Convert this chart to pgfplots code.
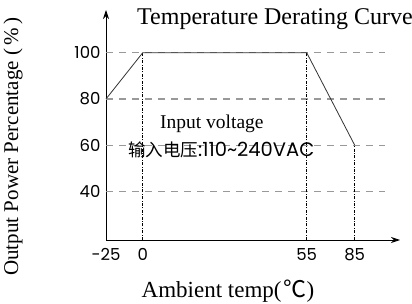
\documentclass[border=0pt]{standalone}
\usepackage{pgfplots}
\pgfplotsset{compat=1.18}
\usetikzlibrary{arrows.meta}
\usepackage{fontspec}
\setmainfont{Liberation Serif}
\newfontfamily\sans{Poppins}
\newfontfamily\cjk{Noto Sans CJK SC}
\begin{document}
\begin{tikzpicture}
\useasboundingbox (0,0) rectangle (412bp,304bp);
\begin{axis}[
  at={(106bp,64bp)}, anchor=south west,
  scale only axis, width=294bp, height=230bp,
  axis lines=left,
  axis line style={line width=0.9pt, -{Stealth[length=9pt,width=6pt]}},
  x coord trafo/.code={\pgfmathparse{(#1<=0) ? ((#1+25)*1.468) : ((#1<=55) ? (36.7+#1*2.982) : (200.7+(#1-55)*1.6))}},
  xmin=-25, xmax=113.3, ymin=19, ymax=118.5,
  xtick={-25,0,55,85}, xticklabels={-25,0,55,85},
  ytick={40,60,80,100}, yticklabels={40,60,80,100},
  major tick length=0pt,
  xticklabel style={font=\sans\fontsize{16.5bp}{16.5bp}\selectfont, yshift=-5bp},
  yticklabel style={font=\sans\fontsize{16.5bp}{16.5bp}\selectfont, xshift=-2bp},
  clip=false,
]
\foreach \yv in {40,60,80,100}{
  \edef\tmp{\noexpand\draw[gray!80, line width=1.1pt, dash pattern=on 7bp off 6bp] (axis cs:-25,\yv) -- (axis cs:104,\yv);}
  \tmp
}
\draw[black, line width=0.5pt, dash pattern=on 3bp off 1.5bp on 0.8bp off 1.5bp] (axis cs:0,19) -- (axis cs:0,100);
\draw[black, line width=0.5pt, dash pattern=on 3bp off 1.5bp on 0.8bp off 1.5bp] (axis cs:55,19) -- (axis cs:55,100);
\draw[black, line width=0.5pt, dash pattern=on 3bp off 1.5bp on 0.8bp off 1.5bp] (axis cs:85,19) -- (axis cs:85,60);
\addplot[black!80, line width=0.8pt] coordinates {(-25,80) (0,100) (55,100) (85,60)};
\end{axis}
\node[anchor=base west, inner sep=0pt, font=\fontsize{24bp}{24bp}\selectfont] at (137bp,279bp) {Temperature Derating Curve};
\node[anchor=base west, inner sep=0pt, font=\fontsize{19.5bp}{19.5bp}\selectfont] at (160bp,175bp) {Input voltage};
\node[anchor=base west, inner sep=0pt] at (128bp,147bp) {{\cjk\fontsize{17.5bp}{17.5bp}\selectfont 输入电压}{\sans\fontsize{19.5bp}{19.5bp}\selectfont:110\textasciitilde 240VAC}};
\node[rotate=90, inner sep=0pt, font=\fontsize{21bp}{21bp}\selectfont] at (13bp,157.5bp) {Output Power Percentage (\,\%\,)};
\node[anchor=base, inner sep=0pt, font=\fontsize{23bp}{23bp}\selectfont] at (228bp,7bp) {Ambient temp(\kern2bp{\cjk ℃})};
\end{tikzpicture}
\end{document}
